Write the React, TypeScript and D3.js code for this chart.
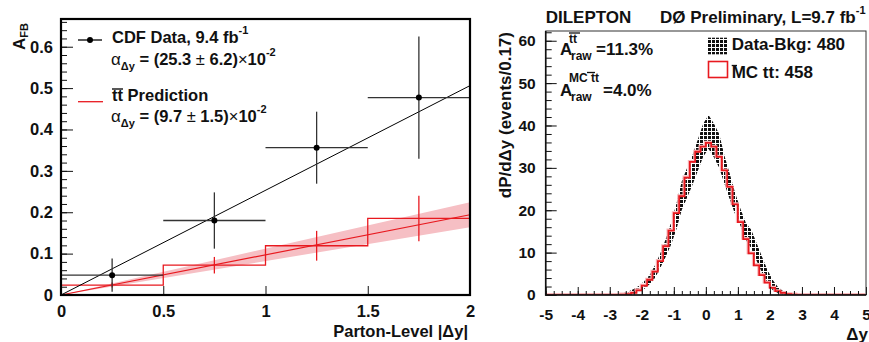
import * as d3 from "d3";
import { useEffect, useRef } from "react";

const W = 869;
const H = 342;
const FONT = "'Liberation Sans', Arial, Helvetica, sans-serif";
const RED = "#e8191f";

// left panel: A_FB vs parton-level |dy|
const binEdges = [0, 0.5, 1, 1.5, 2];
const cdfValues = [0.048, 0.18, 0.356, 0.477];
const cdfErrors = [0.04, 0.068, 0.087, 0.148];
const predValues = [0.024, 0.072, 0.119, 0.185];
const predErrors = [0.006, 0.02, 0.036, 0.055];
const cdfSlope = 0.253;
const predSlope = 0.097;
const predSlopeErr = 0.015;
const leftYTicks = [0, 0.1, 0.2, 0.3, 0.4, 0.5, 0.6];

// right panel: dy distribution, 60 bins in [-5, 5]
const dyRange = [-5, 5];
const mcValues = [
  0, 0, 0, 0, 0, 0, 0, 0, 0, 0, 0, 0, 0, 0,
  0.1, 0.2, 0.5, 1.1, 2.2, 3.6, 5.5, 8.0, 11.5, 15.2, 19.3, 23.3, 27.7, 31.4, 33.8, 35.0,
  35.9, 35.0, 32.6, 29.4, 25.5, 21.4, 17.2, 13.2, 9.8, 7.0, 4.7, 2.9, 1.7, 0.9, 0.5, 0.2, 0.1,
  0, 0, 0, 0, 0, 0, 0, 0, 0, 0, 0, 0, 0,
];
const dataValues = [
  0, 0, 0, 0, 0, 0, 0, 0, 0, 0, 0, 0, 0,
  0.05, 0.2, 0.5, 0.9, 1.5, 2.4, 3.7, 5.6, 8.2, 11.2, 14.5, 18.6, 23.5, 26.5, 29.5, 33.0, 36.5,
  38.5, 36.5, 34.0, 29.5, 25.5, 21.5, 18.3, 15.0, 13.2, 10.2, 7.2, 4.5, 2.4, 1.2, 0.5, 0.2, 0.05,
  0, 0, 0, 0, 0, 0, 0, 0, 0, 0, 0, 0, 0,
];
const dataErrors = [
  0, 0, 0, 0, 0, 0, 0, 0, 0, 0, 0, 0, 0,
  0.05, 0.2, 0.3, 0.5, 0.7, 0.9, 1.1, 1.5, 1.7, 2.1, 2.6, 3.0, 3.4, 3.5, 3.5, 3.7, 3.9,
  4.0, 4.0, 4.0, 3.3, 3.0, 2.5, 2.0, 2.0, 2.2, 2.1, 1.9, 1.5, 1.2, 0.7, 0.4, 0.2, 0.05,
  0, 0, 0, 0, 0, 0, 0, 0, 0, 0, 0, 0, 0,
];
const rightXTicks = [-5, -4, -3, -2, -1, 0, 1, 2, 3, 4, 5];
const rightYTicks = [0, 10, 20, 30, 40, 50, 60];

function styleAxis(g: any, size: number) {
  g.select(".domain").remove();
  g.attr("font-family", FONT).attr("font-size", size).attr("font-weight", "bold");
  g.selectAll("text").attr("fill", "#111");
  g.selectAll("line").attr("stroke", "#111");
}

function drawLeft(g: any) {
  const x = d3.scaleLinear().domain([0, 2]).range([61, 470]);
  const y = d3.scaleLinear().domain([0, 0.667]).range([295, 19]);
  const [x0, x1] = x.domain();

  // prediction uncertainty band
  const band = d3
    .area<number>()
    .x((d) => x(d))
    .y0((d) => y(d * (predSlope - predSlopeErr)))
    .y1((d) => y(d * (predSlope + predSlopeErr)));
  g.append("path").attr("d", band([x0, x1])).attr("fill", "#f6bfc4");

  const fit = d3
    .line<number>()
    .x((d) => x(d))
    .y((d) => y(d * predSlope));
  g.append("path").attr("d", fit([x0, x1])).attr("stroke", RED).attr("stroke-width", 1.2).attr("fill", "none");

  // prediction histogram
  const steps: [number, number][] = [[binEdges[0], 0]];
  predValues.forEach((v, i) => {
    steps.push([binEdges[i], v], [binEdges[i + 1], v]);
  });
  steps.push([binEdges[binEdges.length - 1], 0]);
  g.append("path")
    .attr("d", d3.line().x((d) => x(d[0])).y((d) => y(d[1]))(steps))
    .attr("stroke", RED)
    .attr("stroke-width", 1.3)
    .attr("fill", "none");

  const centers = binEdges.slice(0, -1).map((e, i) => (e + binEdges[i + 1]) / 2);
  g.selectAll(".pred-err")
    .data(predValues)
    .join("line")
    .attr("x1", (_, i) => x(centers[i]))
    .attr("x2", (_, i) => x(centers[i]))
    .attr("y1", (v, i) => y(v - predErrors[i]))
    .attr("y2", (v, i) => y(v + predErrors[i]))
    .attr("stroke", RED)
    .attr("stroke-width", 1.3);

  // CDF fit line (clipped at frame)
  const clipId = "clip-left";
  g.append("clipPath").attr("id", clipId).append("rect")
    .attr("x", x(x0)).attr("y", y(0.667)).attr("width", x(x1) - x(x0)).attr("height", y(0) - y(0.667));
  g.append("path")
    .attr("d", d3.line<number>().x((d) => x(d)).y((d) => y(d * cdfSlope))([x0, x1]))
    .attr("clip-path", `url(#${clipId})`)
    .attr("stroke", "#000")
    .attr("stroke-width", 1)
    .attr("fill", "none");

  g.selectAll(".cdf-h")
    .data(cdfValues)
    .join("line")
    .attr("x1", (_, i) => x(binEdges[i]))
    .attr("x2", (_, i) => x(binEdges[i + 1]))
    .attr("y1", (v) => y(v))
    .attr("y2", (v) => y(v))
    .attr("stroke", "#333")
    .attr("stroke-width", 1.3);
  g.selectAll(".cdf-v")
    .data(cdfValues)
    .join("line")
    .attr("x1", (_, i) => x(centers[i]))
    .attr("x2", (_, i) => x(centers[i]))
    .attr("y1", (v, i) => y(v - cdfErrors[i]))
    .attr("y2", (v, i) => y(v + cdfErrors[i]))
    .attr("stroke", "#333")
    .attr("stroke-width", 1.3);
  g.selectAll(".cdf-dot")
    .data(cdfValues)
    .join("circle")
    .attr("cx", (_, i) => x(centers[i]))
    .attr("cy", (v) => y(v))
    .attr("r", 3)
    .attr("fill", "#000");

  // axes, ticks inside
  const fmt = d3.format("");
  const bx = g.append("g").attr("transform", `translate(0,${y(0)})`)
    .call(d3.axisBottom(x).tickValues(binEdges).tickSize(-9).tickPadding(10).tickFormat(fmt));
  styleAxis(bx, 16.5);
  const ly = g.append("g").attr("transform", `translate(${x(0)},0)`)
    .call(d3.axisLeft(y).tickValues(leftYTicks).tickSize(-12).tickPadding(8).tickFormat(fmt));
  styleAxis(ly, 16.5);
  const lyMinor = g.append("g").attr("transform", `translate(${x(0)},0)`)
    .call(d3.axisLeft(y).tickValues(d3.range(0, 0.667, 0.02)).tickSize(-6).tickFormat(() => ""));
  styleAxis(lyMinor, 16);

  g.append("rect")
    .attr("x", x(x0)).attr("y", y(0.667))
    .attr("width", x(x1) - x(x0)).attr("height", y(0) - y(0.667))
    .attr("fill", "none").attr("stroke", "#000").attr("stroke-width", 2.2);
}

function drawRight(g: any) {
  const x = d3.scaleLinear().domain(dyRange).range([545.7, 866]);
  const y = d3.scaleLinear().domain([0, 62.3]).range([295, 31]);
  const n = mcValues.length;
  const bw = (dyRange[1] - dyRange[0]) / n;
  const edge = (i: number) => dyRange[0] + i * bw;

  const clipId = "clip-right";
  g.append("clipPath").attr("id", clipId).append("rect")
    .attr("x", x(dyRange[0])).attr("y", y(62.3)).attr("width", x(dyRange[1]) - x(dyRange[0])).attr("height", y(0) - y(62.3));

  // data - bkg band
  const band = d3
    .area<number>()
    .x((_, i) => x(edge(i) + bw / 2))
    .y0((v, i) => y(Math.max(0, v - dataErrors[i])))
    .y1((v, i) => y(v + dataErrors[i]));
  g.append("path").attr("d", band(dataValues)).attr("fill", "url(#hatch)").attr("clip-path", `url(#${clipId})`);

  // MC histogram
  const pts: [number, number][] = mcValues.map((v, i) => [edge(i), v]);
  pts.push([dyRange[1], mcValues[n - 1]]);
  const step = d3.line().curve(d3.curveStepAfter).x((d) => x(d[0])).y((d) => y(d[1]));
  g.append("path").attr("d", step(pts)).attr("stroke", "#f7b8bb").attr("stroke-width", 2.8).attr("fill", "none")
    .attr("transform", "translate(-0.6,-0.6)")
    .attr("clip-path", `url(#${clipId})`);
  g.append("path").attr("d", step(pts)).attr("stroke", RED).attr("stroke-width", 1.8).attr("fill", "none")
    .attr("clip-path", `url(#${clipId})`);

  const fmt = (d: any) => String(d);
  const bx = g.append("g").attr("transform", `translate(0,${y(0)})`)
    .call(d3.axisBottom(x).tickValues(rightXTicks).tickSize(-8).tickPadding(14).tickFormat(fmt));
  styleAxis(bx, 15.5);
  const bxMinor = g.append("g").attr("transform", `translate(0,${y(0)})`)
    .call(d3.axisBottom(x).tickValues(d3.range(-5, 5.01, 0.25)).tickSize(-4).tickFormat(() => ""));
  styleAxis(bxMinor, 15);
  const ly = g.append("g").attr("transform", `translate(${x(dyRange[0])},0)`)
    .call(d3.axisLeft(y).tickValues(rightYTicks).tickSize(-11).tickPadding(10).tickFormat(fmt));
  styleAxis(ly, 15.5);
  const lyMinor = g.append("g").attr("transform", `translate(${x(dyRange[0])},0)`)
    .call(d3.axisLeft(y).tickValues(d3.range(0, 62.3, 2)).tickSize(-6).tickFormat(() => ""));
  styleAxis(lyMinor, 15);

  g.append("rect")
    .attr("x", x(dyRange[0])).attr("y", y(62.3))
    .attr("width", x(dyRange[1]) - x(dyRange[0])).attr("height", y(0) - y(62.3))
    .attr("fill", "none").attr("stroke", "#333").attr("stroke-width", 1);
  g.append("path")
    .attr("d", `M${x(dyRange[0])},${y(62.3)}V${y(0)}H${x(dyRange[1])}`)
    .attr("fill", "none").attr("stroke", "#111").attr("stroke-width", 1.6);
}

export default function App() {
  const marksRef = useRef<SVGGElement>(null);

  useEffect(() => {
    const marks = d3.select(marksRef.current);
    marks.selectAll("*").remove();
    drawLeft(marks.append("g"));
    drawRight(marks.append("g"));
  }, []);

  const small = 11;
  return (
    <div style={{ position: "absolute", left: 0, top: 0 }}>
      <svg width={W} height={H} style={{ display: "block", background: "#fff" }} fontFamily={FONT} fontWeight="bold" fill="#111">
        <defs>
          <pattern id="hatch" width={4} height={4} patternUnits="userSpaceOnUse">
            <rect width={4} height={4} fill="#fff" />
            <rect width={3} height={3} fill="#111" />
          </pattern>
        </defs>
        <g ref={marksRef} />

        {/* left panel labels */}
        <text transform="translate(25,23) rotate(-90)" textAnchor="end" fontSize={17}>
          A<tspan dy={3} fontSize={small}>FB</tspan>
        </text>
        <text x={468} y={337} textAnchor="end" fontSize={16.5}>Parton-Level |Δy|</text>

        <line x1={78} x2={102} y1={40} y2={40} stroke="#000" strokeWidth={1.3} />
        <circle cx={90} cy={40} r={3} fill="#000" />
        <text x={112} y={43} fontSize={16.5}>
          CDF Data, 9.4 fb<tspan dy={-9} fontSize={small}>-1</tspan>
        </text>
        <text x={111} y={65} fontSize={16.5}>
          <tspan fontWeight="normal" fontSize={17}>α</tspan>
          <tspan dy={5} fontSize={small}>Δy</tspan>
          <tspan dy={-5}> = (25.3 </tspan>
          <tspan fontWeight="normal">±</tspan>
          <tspan> 6.2)</tspan>
          <tspan fontWeight="normal">×</tspan>
          <tspan>10</tspan>
          <tspan dy={-9} fontSize={small}>-2</tspan>
        </text>

        <line x1={78} x2={103} y1={101.7} y2={101.7} stroke={RED} strokeWidth={1.3} />
        <line x1={112} x2={123} y1={89} y2={89} stroke="#111" strokeWidth={1.4} />
        <text x={112} y={101} fontSize={16.5}>tt Prediction</text>
        <text x={111} y={122} fontSize={16.5}>
          <tspan fontWeight="normal" fontSize={17}>α</tspan>
          <tspan dy={5} fontSize={small}>Δy</tspan>
          <tspan dy={-5}> = (9.7 </tspan>
          <tspan fontWeight="normal">±</tspan>
          <tspan> 1.5)</tspan>
          <tspan fontWeight="normal">×</tspan>
          <tspan>10</tspan>
          <tspan dy={-9} fontSize={small}>-2</tspan>
        </text>

        {/* right panel labels */}
        <text x={545.7} y={23} fontSize={17}>DILEPTON</text>
        <text x={660} y={23} fontSize={17}>
          DØ Preliminary, L=9.7 fb<tspan dy={-9} fontSize={small}>-1</tspan>
        </text>
        <text transform="translate(511,32) rotate(-90)" textAnchor="end" fontSize={17}>dP/dΔy (events/0.17)</text>
        <text x={868} y={340} textAnchor="end" fontSize={17}>Δy</text>

        <text x={560} y={55} fontSize={17}>A</text>
        <line x1={569} x2={580} y1={33} y2={33} stroke="#111" strokeWidth={1.3} />
        <text x={569} y={43} fontSize={12}>tt</text>
        <text x={571} y={60} fontSize={12}>raw</text>
        <text x={596} y={55} fontSize={17}>=11.3%</text>

        <text x={560} y={96} fontSize={17}>A</text>
        <text x={569} y={82} fontSize={12}>MC tt</text>
        <line x1={587} x2={595} y1={72.5} y2={72.5} stroke="#111" strokeWidth={1.3} />
        <text x={571} y={101} fontSize={12}>raw</text>
        <text x={603} y={96} fontSize={17}>=4.0%</text>

        <rect x={707.7} y={37.7} width={20} height={16.6} fill="url(#hatch)" />
        <text x={731.7} y={50} fontSize={17}>Data-Bkg: 480</text>
        <rect x={708.5} y={61.5} width={19} height={16} fill="none" stroke={RED} strokeWidth={1.6} />
        <line x1={731.7} x2={737} y1={65.5} y2={65.5} stroke="#111" strokeWidth={1.3} />
        <text x={731.7} y={78} fontSize={17}>MC tt: 458</text>
      </svg>
    </div>
  );
}
